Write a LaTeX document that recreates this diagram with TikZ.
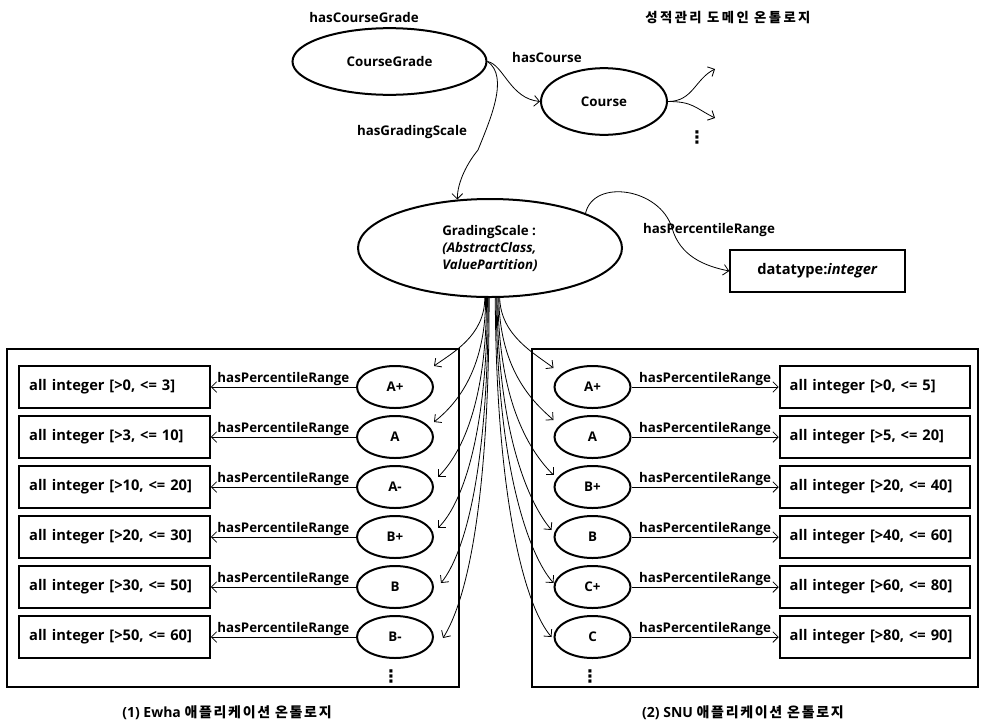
\documentclass[tikz,border=0pt]{standalone}
\usepackage{fontspec}
\setmainfont{Open Sans}
\newfontfamily\kr{Noto Sans CJK KR}
\newfontfamily\dv{DejaVu Sans}
\usetikzlibrary{shapes.geometric,arrows.meta}
\begin{document}
\begin{tikzpicture}[x=0.75pt,y=-0.75pt,
  font=\bfseries\fontsize{10}{12}\selectfont,
  ell/.style={ellipse,draw,line width=1.5pt,fill=white,inner sep=0pt},
  grade/.style={ell,minimum width=57pt,minimum height=31.5pt},
  rng/.style={draw,line width=1.4pt,fill=white,minimum height=31.5pt,text width=128pt,inner xsep=7.5pt,align=left,font=\bfseries\fontsize{11}{13}\selectfont},
  panel/.style={draw,line width=2pt},
  arr/.style={-{Straight Barb[length=4pt,width=8pt]},line width=0.6pt},
  lab/.style={inner sep=0.8pt},
  krtext/.style={font=\kr\bfseries\fontsize{10}{12}\selectfont\addfontfeature{LetterSpace=18}},
  krcap/.style={font=\bfseries\fontsize{10.5}{12}\selectfont},
  dotsym/.style={inner sep=0pt,font=\dv\bfseries\fontsize{13}{14}\selectfont}]
\useasboundingbox (0,0) rectangle (982,722);

% panels
\node[panel,minimum width=339pt,minimum height=253.5pt] (ewha) at (233,518) {};
\node[panel,minimum width=334.5pt,minimum height=253.5pt] (snu) at (755,518) {};

% top part
\node (hcg) at (364,17) {hasCourseGrade};
\node[ell,minimum width=145.5pt,minimum height=50pt] (cg) at (389.5,61.5) {CourseGrade};
\node (hc) at (547,57) {hasCourse};
\node[ell,minimum width=94.5pt,minimum height=50pt] (co) at (604,101.5) {Course};
\node[krtext] (title) at (728,18) {성적관리 도메인 온톨로지};
\coordinate (c1) at (715,69);
\coordinate (c2) at (715,118);
\draw[arr] (co.east) .. controls +(25,0) and +(-20,10) .. (c1);
\draw[arr] (co.east) .. controls +(25,0) and +(-20,-10) .. (c2);
\node[dotsym] (cdots) at (697,137) {⋮};

\node (hgs) at (412,132) {hasGradingScale};
\node[ell,minimum width=198pt,minimum height=73.5pt,align=left,
      font=\bfseries\fontsize{10}{12.75}\selectfont] (gs) at (490,248)
  {GradingScale :\\\textit{(AbstractClass,}\\\textit{ValuePartition)}};

\node (hpr) at (709,230) {hasPercentileRange};
\node[draw,line width=1.4pt,fill=white,minimum width=131pt,minimum height=31.5pt,font=\bfseries\fontsize{11}{13}\selectfont] (dt) at (817.5,271) {datatype:\textit{integer}};

\draw[arr] (cg.east) .. controls +(16,3) and +(-30,-3) .. (co.west);
\draw[arr] (cg.east) .. controls +(22,15) and +(12,-30) .. (478,150)
   .. controls +(-10,12) and +(0,-18) .. (gs.124);
\draw[arr] (gs.20) .. controls +(8,-35) and +(-12,-40) .. (672,228)
   .. controls +(8,28) and +(-25,-5) .. (dt.west);

% left rows (Ewha)
\foreach \g/\r [count=\i from 0] in {A+/{[>0, <= 3]},A/{[>3, <= 10]},A-/{[>10, <= 20]},B+/{[>20, <= 30]},B/{[>30, <= 50]},B-/{[>50, <= 60]}}{
  \pgfmathsetmacro\yy{387+50*\i}
  \node[grade] (L\i) at (395,\yy) {\g};
  \node[rng] (LR\i) at (114.5,\yy) {all integer \r};
  \draw[arr] (L\i) -- node[above,lab]{hasPercentileRange} (LR\i);
}
% right rows (SNU)
\foreach \g/\r [count=\i from 0] in {A+/{[>0, <= 5]},A/{[>5, <= 20]},B+/{[>20, <= 40]},B/{[>40, <= 60]},C+/{[>60, <= 80]},C/{[>80, <= 90]}}{
  \pgfmathsetmacro\yy{387+50*\i}
  \node[grade] (R\i) at (592.5,\yy) {\g};
  \node[rng] (RR\i) at (875,\yy) {all integer \r};
  \draw[arr] (R\i) -- node[above,lab]{hasPercentileRange} (RR\i);
}

% fan to left grades
\foreach \i/\a/\la/\cx/\cy/\dx/\dy in {0/-96/38/18/-13/0/-21,1/-95/75/20/-16/0/-15,2/-94/108/22/-22/4/-10,3/-93/138/24/-24/4/-9,4/-92/172/24/-30/7/-4,5/-91/205/24/-38/9/1}{
  \draw[arr] (gs.\a) .. controls +(0,\la) and +(\cx,\cy) .. ([shift={(\dx,\dy)}]L\i.east);
}
% fan to right grades
\foreach \i/\a/\la/\cx/\cy/\dx/\dy in {0/-79/38/-18/-14/0/-19,1/-80/75/-18/-16/0/-17,2/-81/108/-22/-22/0/-12,3/-82/138/-22/-26/-2/-7,4/-83/172/-24/-27/0/-4,5/-84/205/-26/-30/-2/0}{
  \draw[arr] (gs.\a) .. controls +(1,\la) and +(\cx,\cy) .. ([shift={(\dx,\dy)}]R\i.west);
}

\node[dotsym] (ldots) at (391,676) {⋮};
\node[dotsym] (rdots) at (590,676) {⋮};

\node[krcap] (cap1) at (227,713) {(1) Ewha {\kr\addfontfeature{LetterSpace=12}애플리케이션 온톨로지}};
\node[krcap] (cap2) at (743,713) {(2) SNU {\kr\addfontfeature{LetterSpace=12}애플리케이션 온톨로지}};
\end{tikzpicture}
\end{document}
